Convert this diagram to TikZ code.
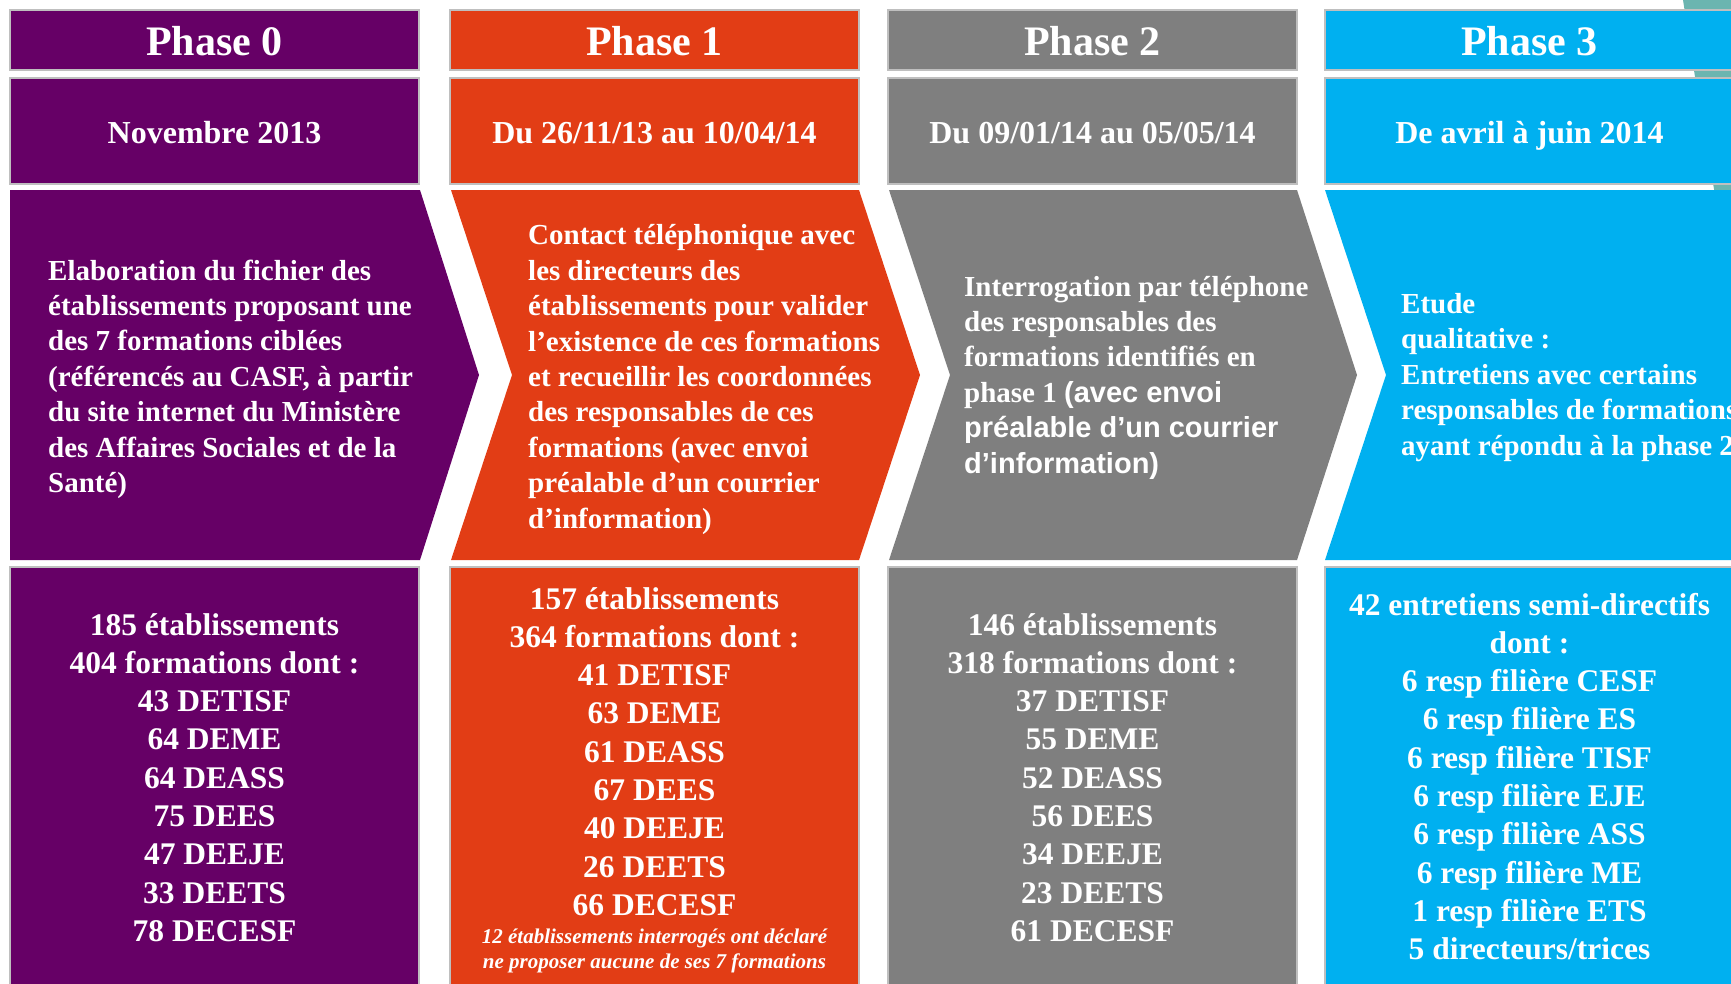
\documentclass[tikz,border=0pt]{standalone}
\usepackage{fontspec}
\setmainfont{Liberation Serif}
\newfontfamily\sansbold{Liberation Sans}

\definecolor{phpurple}{RGB}{102,0,102}
\definecolor{phorange}{RGB}{226,61,21}
\definecolor{phgray}{RGB}{127,127,127}
\definecolor{phblue}{RGB}{0,176,240}
\definecolor{edgegray}{RGB}{191,191,191}
\definecolor{tealbg}{RGB}{107,181,176}

\tikzset{
  box/.style={draw=edgegray, line width=2pt},
  phasetitle/.style={text=white, inner sep=0pt, anchor=base,
    font=\fontsize{42}{50}\selectfont\bfseries},
  datetext/.style={text=white, inner sep=0pt, anchor=base,
    font=\fontsize{32}{38}\selectfont\bfseries},
  % multi-line texts: the base anchor sits on the last line
  chevtext/.style={text=white, inner sep=0pt, anchor=base west, align=left,
    font=\fontsize{29}{35.4}\selectfont\bfseries},
  counttext/.style={text=white, inner sep=0pt, anchor=base, align=center,
    font=\fontsize{31.5}{38.3}\selectfont\bfseries},
  notetext/.style={text=white, inner sep=0pt, anchor=base, align=center,
    font=\fontsize{21}{25}\selectfont\bfseries\itshape}
}

\begin{document}
\begin{tikzpicture}[x=1pt,y=-1pt]
  \useasboundingbox (0,0) rectangle (1731,983);
  \clip (0,0) rectangle (1731,983);

  % background arc at the top right
  \fill[tealbg] (1683,0) .. controls (1697,90) and (1712,190) .. (1740,320) -- (1740,0) -- cycle;

  % headers
  \draw[box, fill=phpurple] (10,10) rectangle (419,70);
  \draw[box, fill=phorange] (450,10) rectangle (859,70);
  \draw[box, fill=phgray] (888,10) rectangle (1297,70);
  \draw[box, fill=phblue] (1325,10) rectangle (1740,70);

  % dates
  \draw[box, fill=phpurple] (10,78) rectangle (419,184);
  \draw[box, fill=phorange] (450,78) rectangle (859,184);
  \draw[box, fill=phgray] (888,78) rectangle (1297,184);
  \draw[box, fill=phblue] (1325,78) rectangle (1740,184);

  % chevrons
  \fill[phpurple] (10,190) -- (420,190) -- (479,375) -- (420,560) -- (10,560) -- cycle;
  \fill[phorange] (451,190) -- (859,190) -- (920,375) -- (859,560) -- (451,560) -- (512,375) -- cycle;
  \fill[phgray] (889,190) -- (1297,190) -- (1357,375) -- (1297,560) -- (889,560) -- (950,375) -- cycle;
  \fill[phblue] (1325,190) -- (1740,190) -- (1740,560) -- (1325,560) -- (1386,375) -- cycle;

  % results
  \draw[box, fill=phpurple] (10,567) rectangle (419,1000);
  \draw[box, fill=phorange] (450,567) rectangle (859,1000);
  \draw[box, fill=phgray] (888,567) rectangle (1297,1000);
  \draw[box, fill=phblue] (1325,567) rectangle (1740,1000);

  \node[phasetitle] (ph0) at (214.5,55) {Phase 0};
  \node[phasetitle] (ph1) at (654.5,55) {Phase 1};
  \node[phasetitle] (ph2) at (1092.5,55) {Phase 2};
  \node[phasetitle] (ph3) at (1529.5,55) {Phase 3};

  \node[datetext] (date0) at (214.5,143) {Novembre 2013};
  \node[datetext] (date1) at (654.5,143) {Du 26/11/13 au 10/04/14};
  \node[datetext] (date2) at (1092.5,143) {Du 09/01/14 au 05/05/14};
  \node[datetext] (date3) at (1529.5,143) {De avril à juin 2014};

  \node[chevtext] (task0) at (48,492.4) {Elaboration du fichier des\\
    établissements proposant une\\des 7 formations ciblées\\
    (référencés au CASF, à partir\\du site internet du Ministère\\
    des Affaires Sociales et de la\\Santé)};
  \node[chevtext] (task1) at (528,528) {Contact téléphonique avec\\
    les directeurs des\\établissements pour valider\\
    l’existence de ces formations\\et recueillir les coordonnées\\
    des responsables de ces\\formations (avec envoi\\
    préalable d’un courrier\\d’information)};
  \node[chevtext] (task2) at (964,473) {Interrogation par téléphone\\
    des responsables des\\formations identifiés en\\
    phase 1 {\sansbold (avec envoi}\\{\sansbold préalable d’un courrier}\\
    {\sansbold d’information)}};
  \node[chevtext] (task3) at (1401,455) {Etude\\qualitative :\\
    Entretiens avec certains\\responsables de formations\\
    ayant répondu à la phase 2};

  \node[counttext] (count0) at (214.5,941.4) {185 établissements\\
    404 formations dont :\\43 DETISF\\64 DEME\\64 DEASS\\75 DEES\\
    47 DEEJE\\33 DEETS\\78 DECESF};
  \node[counttext] (count1) at (654.5,915.4) {157 établissements\\
    364 formations dont :\\41 DETISF\\63 DEME\\61 DEASS\\67 DEES\\
    40 DEEJE\\26 DEETS\\66 DECESF};
  \node[notetext] (note1) at (654.5,968) {12 établissements interrogés ont déclaré\\
    ne proposer aucune de ses 7 formations};
  \node[counttext] (count2) at (1092.5,941.4) {146 établissements\\
    318 formations dont :\\37 DETISF\\55 DEME\\52 DEASS\\56 DEES\\
    34 DEEJE\\23 DEETS\\61 DECESF};
  \node[counttext] (count3) at (1529.5,959.7) {42 entretiens semi-directifs\\
    dont :\\6 resp filière CESF\\6 resp filière ES\\6 resp filière TISF\\
    6 resp filière EJE\\6 resp filière ASS\\6 resp filière ME\\
    1 resp filière ETS\\5 directeurs/trices};
\end{tikzpicture}
\end{document}
